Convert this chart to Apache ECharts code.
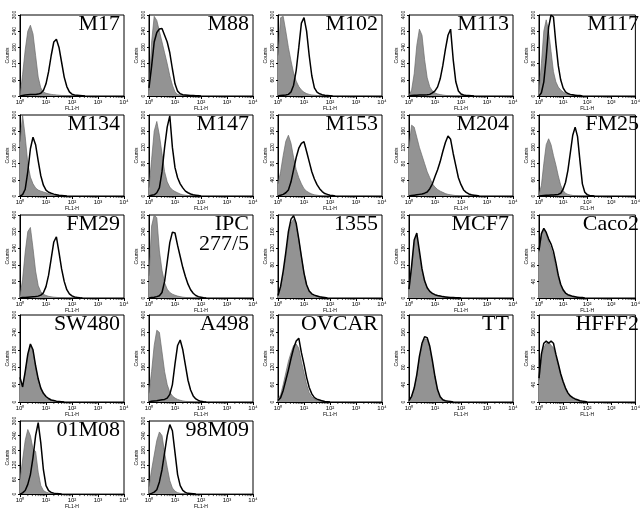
<!DOCTYPE html>
<html>
<head>
<meta charset="utf-8">
<script src="https://cdn.jsdelivr.net/npm/echarts@6/dist/echarts.min.js"></script>
<style>
  html, body { margin: 0; padding: 0; background: #fff; }
  #chart { width: 643px; height: 510px; }
</style>
</head>
<body>
<div id="chart"></div>
<script>
// FL1-H bins in decades (10^0 .. 10^4)
const fl1Decades = [0, 0.1, 0.2, 0.3, 0.4, 0.5, 0.6, 0.7, 0.8, 0.9, 1, 1.1, 1.2, 1.3, 1.4, 1.5, 1.6, 1.7, 1.8, 1.9,
  2, 2.1, 2.2, 2.3, 2.4, 2.5, 2.6, 2.7, 2.8, 2.9, 3, 3.1, 3.2, 3.3, 3.4, 3.5, 3.6, 3.7, 3.8, 3.9, 4]
const xTickLabels = ['10⁰', '10¹', '10²', '10³', '10⁴']

// counts per bin: gray = control (filled), line = stained
const m17Gray = [0, 80, 170, 240, 262, 230, 150, 70, 30, 15, 10, 8, 6, 5, 4, 3, 2, 2, 1, 1, 0]
const m17Line = [0, 2, 4, 5, 6, 6, 6, 7, 10, 20, 45, 90, 150, 200, 210, 180, 125, 70, 35, 15, 7, 4, 3, 2, 1, 0]
const m88Gray = [20, 200, 295, 280, 240, 200, 160, 120, 75, 40, 15, 6, 3, 2, 1, 0]
const m88Line = [30, 110, 200, 235, 248, 250, 225, 200, 160, 100, 45, 18, 8, 5, 4, 3, 2, 2, 1, 1, 0]
const m102Gray = [150, 290, 295, 240, 180, 130, 85, 55, 35, 22, 14, 9, 6, 4, 3, 2, 1, 1, 0]
const m102Line = [0, 2, 3, 4, 6, 15, 40, 95, 180, 270, 290, 240, 150, 75, 30, 14, 8, 5, 3, 2, 1, 0]
const m113Gray = [0, 30, 110, 250, 330, 300, 180, 90, 45, 25, 15, 10, 7, 5, 3, 2, 1, 0]
const m113Line = [0, 3, 4, 4, 5, 5, 5, 6, 8, 15, 25, 45, 85, 150, 230, 300, 330, 180, 70, 25, 10, 5, 3, 2, 1, 0]
const m117Gray = [10, 80, 160, 188, 160, 110, 60, 35, 22, 15, 10, 6, 4, 3, 2, 1, 0]
const m117Line = [0, 8, 35, 95, 170, 200, 195, 130, 75, 40, 20, 10, 6, 4, 3, 2, 1, 1, 0]
const m134Gray = [200, 300, 220, 120, 70, 45, 30, 22, 18, 15, 12, 8, 5, 3, 2, 1, 0]
const m134Line = [0, 5, 25, 90, 175, 218, 190, 130, 75, 40, 22, 14, 10, 7, 5, 3, 2, 1, 0]
const m147Gray = [20, 90, 160, 184, 150, 105, 60, 35, 22, 15, 11, 8, 5, 3, 2, 1, 0]
const m147Line = [0, 2, 3, 8, 20, 60, 120, 170, 198, 120, 70, 45, 30, 20, 12, 8, 5, 3, 2, 1, 0]
const m153Gray = [30, 60, 100, 135, 150, 130, 95, 65, 45, 30, 18, 12, 8, 5, 3, 2, 1, 0]
const m153Line = [0, 2, 4, 8, 15, 35, 65, 95, 118, 130, 134, 110, 85, 60, 42, 28, 18, 11, 6, 4, 2, 1, 0]
const m204Gray = [120, 175, 170, 145, 120, 100, 80, 60, 45, 30, 22, 16, 12, 9, 6, 4, 3, 2, 1, 0]
const m204Line = [0, 1, 2, 3, 4, 5, 7, 10, 18, 30, 48, 65, 85, 110, 132, 148, 140, 105, 75, 45, 28, 15, 9, 5, 3, 2, 1, 0]
const fm25Gray = [5, 40, 120, 190, 212, 190, 150, 115, 75, 40, 20, 10, 6, 4, 2, 1, 0]
const fm25Line = [0, 1, 2, 3, 3, 4, 4, 5, 6, 10, 25, 50, 95, 160, 225, 255, 220, 130, 45, 14, 5, 2, 1, 0]
const fm29Gray = [10, 90, 220, 320, 340, 240, 130, 60, 30, 18, 12, 8, 6, 4, 3, 2, 1, 0]
const fm29Line = [0, 2, 3, 4, 5, 6, 7, 9, 14, 25, 55, 110, 190, 270, 295, 220, 140, 80, 40, 20, 10, 5, 3, 1, 0]
const ipcGray = [80, 260, 300, 290, 170, 100, 55, 32, 20, 14, 10, 7, 5, 3, 2, 1, 0]
const ipcLine = [0, 2, 3, 5, 8, 20, 60, 130, 200, 238, 235, 190, 150, 110, 78, 50, 30, 17, 9, 5, 3, 1, 0]
const c1355Gray = [5, 25, 60, 100, 150, 180, 190, 175, 140, 100, 60, 30, 15, 9, 6, 4, 3, 2, 1, 0]
const c1355Line = [6, 28, 65, 110, 160, 190, 198, 180, 142, 100, 60, 32, 17, 10, 7, 5, 3, 2, 1, 0]
const mcf7Gray = [30, 110, 200, 225, 160, 100, 60, 35, 22, 15, 10, 8, 6, 4, 3, 2, 1, 1, 0]
const mcf7Line = [32, 115, 210, 235, 170, 105, 62, 37, 24, 17, 12, 9, 7, 5, 4, 3, 2, 2, 1, 1, 0]
const caco2Gray = [110, 150, 165, 155, 135, 120, 100, 75, 50, 30, 18, 11, 7, 5, 3, 2, 1, 0]
const caco2Line = [115, 155, 168, 158, 142, 130, 112, 85, 55, 33, 20, 12, 8, 6, 4, 3, 2, 1, 1, 0]
const sw480Gray = [80, 50, 100, 160, 195, 175, 120, 75, 45, 28, 17, 10, 6, 4, 2, 1, 0]
const sw480Line = [85, 52, 105, 165, 200, 180, 125, 80, 48, 30, 19, 12, 7, 5, 3, 2, 1, 0]
const a498Gray = [40, 140, 260, 330, 320, 230, 140, 80, 45, 28, 18, 12, 8, 5, 3, 2, 1, 0]
const a498Line = [0, 3, 5, 6, 8, 10, 12, 18, 35, 80, 175, 260, 285, 240, 170, 100, 55, 28, 14, 7, 3, 1, 0]
const ovcarGray = [8, 25, 60, 100, 140, 170, 195, 200, 185, 140, 100, 60, 32, 18, 10, 6, 4, 2, 1, 0]
const ovcarLine = [5, 15, 40, 75, 110, 150, 185, 210, 220, 170, 130, 85, 50, 28, 15, 10, 7, 4, 2, 1, 0]
const ttGray = [3, 12, 30, 60, 100, 130, 145, 145, 125, 90, 55, 25, 10, 4, 2, 1, 0]
const ttLine = [3, 13, 32, 63, 105, 135, 150, 148, 128, 95, 58, 28, 12, 5, 3, 2, 1, 0]
const hfff2Gray = [50, 100, 125, 135, 138, 130, 125, 105, 85, 62, 45, 30, 20, 13, 9, 6, 4, 2, 1, 0]
const hfff2Line = [55, 110, 135, 140, 135, 140, 135, 110, 88, 65, 47, 32, 21, 14, 10, 7, 5, 3, 2, 1, 0]
const m0108Gray = [60, 140, 220, 265, 240, 185, 175, 90, 35, 15, 8, 5, 3, 2, 1, 0]
const m0108Line = [0, 5, 15, 40, 80, 150, 240, 293, 210, 100, 35, 14, 7, 4, 2, 1, 0]
const m9809Gray = [30, 100, 160, 220, 255, 240, 170, 110, 55, 25, 12, 6, 3, 2, 1, 0]
const m9809Line = [0, 3, 8, 18, 50, 100, 170, 240, 285, 260, 170, 80, 35, 15, 7, 3, 2, 1, 0]

const panels = [
  { name: ['M17'], max: 300, gray: m17Gray, line: m17Line },
  { name: ['M88'], max: 300, gray: m88Gray, line: m88Line },
  { name: ['M102'], max: 300, gray: m102Gray, line: m102Line },
  { name: ['M113'], max: 400, gray: m113Gray, line: m113Line },
  { name: ['M117'], max: 200, gray: m117Gray, line: m117Line },
  { name: ['M134'], max: 300, gray: m134Gray, line: m134Line },
  { name: ['M147'], max: 200, gray: m147Gray, line: m147Line },
  { name: ['M153'], max: 200, gray: m153Gray, line: m153Line },
  { name: ['M204'], max: 200, gray: m204Gray, line: m204Line },
  { name: ['FM25'], max: 300, gray: fm25Gray, line: fm25Line },
  { name: ['FM29'], max: 400, gray: fm29Gray, line: fm29Line },
  { name: ['IPC', '277/5'], max: 300, gray: ipcGray, line: ipcLine },
  { name: ['1355'], max: 200, gray: c1355Gray, line: c1355Line },
  { name: ['MCF7'], max: 300, gray: mcf7Gray, line: mcf7Line },
  { name: ['Caco2'], max: 200, gray: caco2Gray, line: caco2Line },
  { name: ['SW480'], max: 300, gray: sw480Gray, line: sw480Line },
  { name: ['A498'], max: 400, gray: a498Gray, line: a498Line },
  { name: ['OVCAR'], max: 300, gray: ovcarGray, line: ovcarLine },
  { name: ['TT'], max: 200, gray: ttGray, line: ttLine },
  { name: ['HFFF2'], max: 200, gray: hfff2Gray, line: hfff2Line },
  { name: ['01M08'], max: 300, gray: m0108Gray, line: m0108Line },
  { name: ['98M09'], max: 300, gray: m9809Gray, line: m9809Line }
]

// layout of the 5x5 panel grid
const colLeft = [20, 149, 278, 409, 539]
const rowTop = [15, 115, 215, 315, 421]
const rowHeight = [81, 81, 83, 87, 79]
const panelWidth = 104

// minor ticks of the log axis (2..9 in every decade)
const minorTickPos = []
for (let d = 0; d < 4; d++) {
  for (let k = 2; k <= 9; k++) minorTickPos.push(d + Math.log10(k))
}

const grid = []
const xAxis = []
const yAxis = []
const series = []
const graphic = []
const tinyFont = { fontFamily: 'Liberation Sans', fontSize: 5, color: '#000' }

panels.forEach((p, i) => {
  const col = i % 5
  const row = Math.floor(i / 5)
  const left = colLeft[col]
  const top = rowTop[row]
  const height = rowHeight[row]
  grid.push({ left: left, top: top, width: panelWidth, height: height, show: true, borderColor: '#000', borderWidth: 1, backgroundColor: 'transparent' })
  xAxis.push({
    gridIndex: i, type: 'value', min: 0, max: 4, interval: 1,
    name: 'FL1-H', nameLocation: 'middle', nameGap: 9,
    nameTextStyle: Object.assign({}, tinyFont),
    axisLine: { lineStyle: { color: '#000', width: 1 } },
    axisTick: { length: 3, lineStyle: { color: '#000' } },
    axisLabel: Object.assign({ margin: 3, formatter: v => xTickLabels[v] }, tinyFont, { fontSize: 6 }),
    splitLine: { show: false }
  })
  yAxis.push({
    gridIndex: i, type: 'value', min: 0, max: p.max, interval: p.max / 5,
    name: 'Counts', nameLocation: 'middle', nameGap: 10,
    nameTextStyle: Object.assign({}, tinyFont),
    axisLine: { show: true, lineStyle: { color: '#000', width: 1 } },
    axisTick: { show: true, length: 2, lineStyle: { color: '#000' } },
    axisLabel: Object.assign({ rotate: 90, margin: 3 }, tinyFont),
    splitLine: { show: false }
  })
  series.push({
    type: 'line', xAxisIndex: i, yAxisIndex: i, symbol: 'none', silent: true,
    data: p.gray.map((v, k) => [fl1Decades[k], v]),
    lineStyle: { color: '#6a6a6a', width: 0.7 },
    areaStyle: { color: '#939393', opacity: 1 },
    z: 2
  })
  series.push({
    type: 'line', xAxisIndex: i, yAxisIndex: i, symbol: 'none', silent: true,
    data: p.line.map((v, k) => [fl1Decades[k], v]),
    lineStyle: { color: '#000', width: 1.5 },
    z: 3
  })
  series.push({
    type: 'custom', xAxisIndex: i, yAxisIndex: i, silent: true,
    data: minorTickPos.map(v => [v, 0]),
    renderItem: (params, api) => {
      const pt = api.coord([api.value(0), 0])
      return { type: 'line', shape: { x1: pt[0], y1: pt[1], x2: pt[0], y2: pt[1] + 2 }, style: { stroke: '#000', lineWidth: 0.7 } }
    },
    z: 4
  })
  p.name.forEach((line, j) => {
    graphic.push({
      type: 'text', silent: true, z: 10,
      x: left + panelWidth - 4, y: top - 2 + j * 20,
      style: { text: line, font: '22px "Liberation Serif"', fill: '#000', align: 'right', verticalAlign: 'top' }
    })
  })
})

const chart = echarts.init(document.getElementById('chart'), null, { renderer: 'canvas' })
chart.setOption({
  animation: false,
  backgroundColor: '#fff',
  grid: grid,
  xAxis: xAxis,
  yAxis: yAxis,
  series: series,
  graphic: graphic
})
</script>
</body>
</html>
